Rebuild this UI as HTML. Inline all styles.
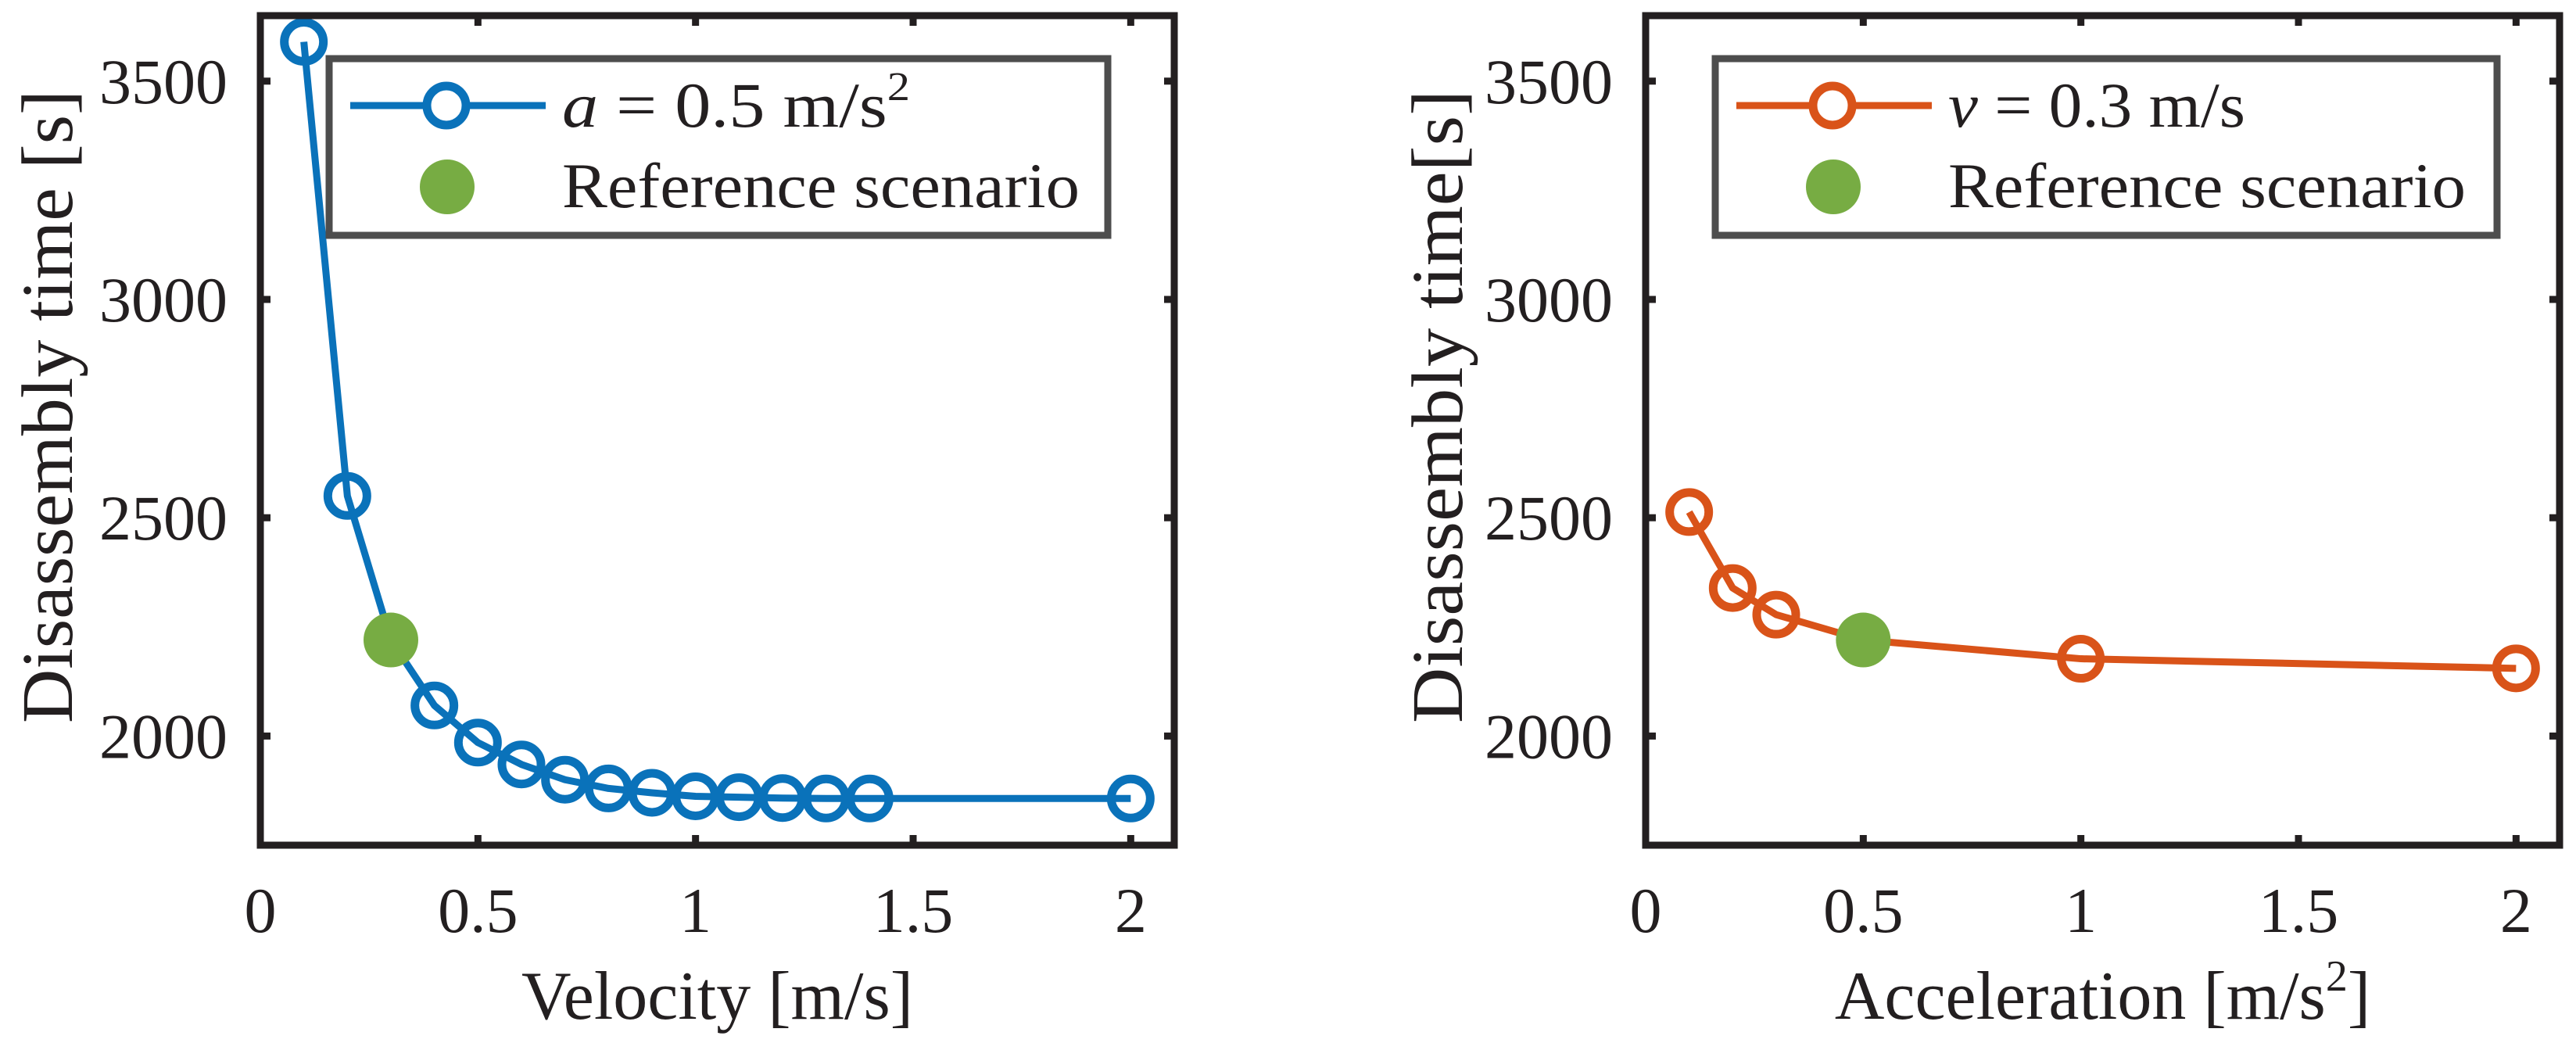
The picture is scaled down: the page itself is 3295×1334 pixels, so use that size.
<!DOCTYPE html>
<html><head><meta charset="utf-8"><style>
html,body{margin:0;padding:0;background:#fff}
svg{display:block}
text{font-family:"Liberation Serif",serif;fill:#231f20}
</style></head><body>
<svg id="fig" width="3295" height="1334" viewBox="0 0 3295 1334" xmlns="http://www.w3.org/2000/svg"></svg>
<script>
const velCategories=[0.1,0.2,0.3,0.4,0.5,0.6,0.7,0.8,0.9,1.0,1.1,1.2,1.3,1.4,2.0];
const velTimes=[3590,2550,2220,2070,1985,1935,1900,1880,1870,1862,1860,1858,1857,1857,1857];
const accCategories=[0.1,0.2,0.3,0.5,1.0,2.0];
const accTimes=[2513,2339,2278,2220,2177,2155];
const refLeft=[0.3,2220];
const refRight=[0.5,2220];
const xTicks=[0,0.5,1,1.5,2];
const xTickLabels=["0","0.5","1","1.5","2"];
const yTicks=[2000,2500,3000,3500];
const yTickLabels=["2000","2500","3000","3500"];
const NS="http://www.w3.org/2000/svg";
const svg=document.getElementById('fig');
function mk(tag,attrs,parent){const e=document.createElementNS(NS,tag);for(const k in attrs)e.setAttribute(k,attrs[k]);(parent||svg).appendChild(e);return e;}
const AX='#231f20';
function panel(cfg){
  const L=cfg.left,R=cfg.right,T=20,B=1081;
  const xs=v=>L+(v-0)/(2.1-0)*(R-L);
  const ys=v=>B-(v-1750)/(3650-1750)*(B-T);
  const g=mk('g',{});
  
  
  xTicks.forEach((t,i)=>{
    const x=xs(t);
    const a=mk('line',{x1:x,x2:x,y1:B,y2:B-13,stroke:AX,'stroke-width':9},g);
    
    const b=mk('line',{x1:x,x2:x,y1:T,y2:T+13,stroke:AX,'stroke-width':9},g);
    
    const tx=mk('text',{x:x,y:1192,'font-size':82,'text-anchor':'middle'},g);
    tx.textContent=xTickLabels[i];
    
  });
  yTicks.forEach((t,i)=>{
    const y=ys(t);
    const a=mk('line',{x1:L,x2:L+13,y1:y,y2:y,stroke:AX,'stroke-width':9},g);
    
    const b=mk('line',{x1:R,x2:R-13,y1:y,y2:y,stroke:AX,'stroke-width':9},g);
    
    const tx=mk('text',{x:L-42,y:y+28,'font-size':82,'text-anchor':'end'},g);
    tx.textContent=yTickLabels[i];
    
  });
  const pts=cfg.cats.map((c,i)=>xs(c)+','+ys(cfg.vals[i])).join(' ');
  const pl=mk('polyline',{points:pts,fill:'none',stroke:cfg.color,'stroke-width':9,'stroke-linejoin':'round'},g);
  
  cfg.cats.forEach((c,i)=>{
    if(c===cfg.ref[0])return;
    const m=mk('circle',{cx:xs(c),cy:ys(cfg.vals[i]),r:25,fill:'none',stroke:cfg.color,'stroke-width':11},g);
    
  });
  const rd=mk('circle',{cx:xs(cfg.ref[0]),cy:ys(cfg.ref[1]),r:35,fill:'#77ac43'},g);
  
  const bx=mk('rect',{x:L,y:T,width:R-L,height:B-T,fill:'none',stroke:AX,'stroke-width':9},g);
  
  const lg=mk('g',{},g);
  
  const lx=cfg.legX,lw=cfg.legW;
  mk('rect',{x:lx,y:75,width:lw,height:226,fill:'#fff',stroke:'#4d4d4d','stroke-width':9},lg);
  mk('line',{x1:lx+27,x2:lx+277,y1:135,y2:135,stroke:cfg.color,'stroke-width':9},lg);
  mk('circle',{cx:lx+150,cy:135,r:25,fill:'#fff',stroke:cfg.color,'stroke-width':11},lg);
  const t1=mk('text',{x:lx+298,y:162,'font-size':82,textLength:cfg.legLen,lengthAdjust:'spacingAndGlyphs'},lg);
  t1.innerHTML=cfg.legText;
  
  mk('circle',{cx:lx+151,cy:239,r:35,fill:'#77ac43'},lg);
  const t2=mk('text',{x:lx+298,y:265,'font-size':82,textLength:662,lengthAdjust:'spacingAndGlyphs'},lg);
  t2.textContent='Reference scenario';
  
  const xt=mk('text',{x:(L+R)/2,y:1303,'font-size':88,'text-anchor':'middle'},g);
  xt.innerHTML=cfg.xTitle;
  
  const yt=mk('text',{x:0,y:0,'font-size':93,'text-anchor':'middle',textLength:810,lengthAdjust:'spacingAndGlyphs',transform:`translate(${cfg.yTitleX},520) rotate(-90)`},g);
  yt.textContent=cfg.yTitle;
  
}
panel({name:'velocity-panel',left:333,right:1502,cats:velCategories,vals:velTimes,ref:refLeft,color:'#0a72ba',
  legX:421,legW:996,legLen:445,legText:'<tspan font-style="italic">a</tspan> = 0.5 m/s<tspan font-size="52" dy="-34">2</tspan>',
  xTitle:'Velocity [m/s]',yTitle:'Disassembly time [s]',yTitleX:92});
panel({name:'acceleration-panel',left:2105,right:3274,cats:accCategories,vals:accTimes,ref:refRight,color:'#d95319',
  legX:2194,legW:1000,legLen:380,legText:'<tspan font-style="italic">v</tspan> = 0.3 m/s',
  xTitle:'Acceleration [m/s<tspan font-size="56" dy="-36">2</tspan><tspan dy="36">]</tspan>',yTitle:'Disassembly time[s]',yTitleX:1870});
</script>
</body></html>
